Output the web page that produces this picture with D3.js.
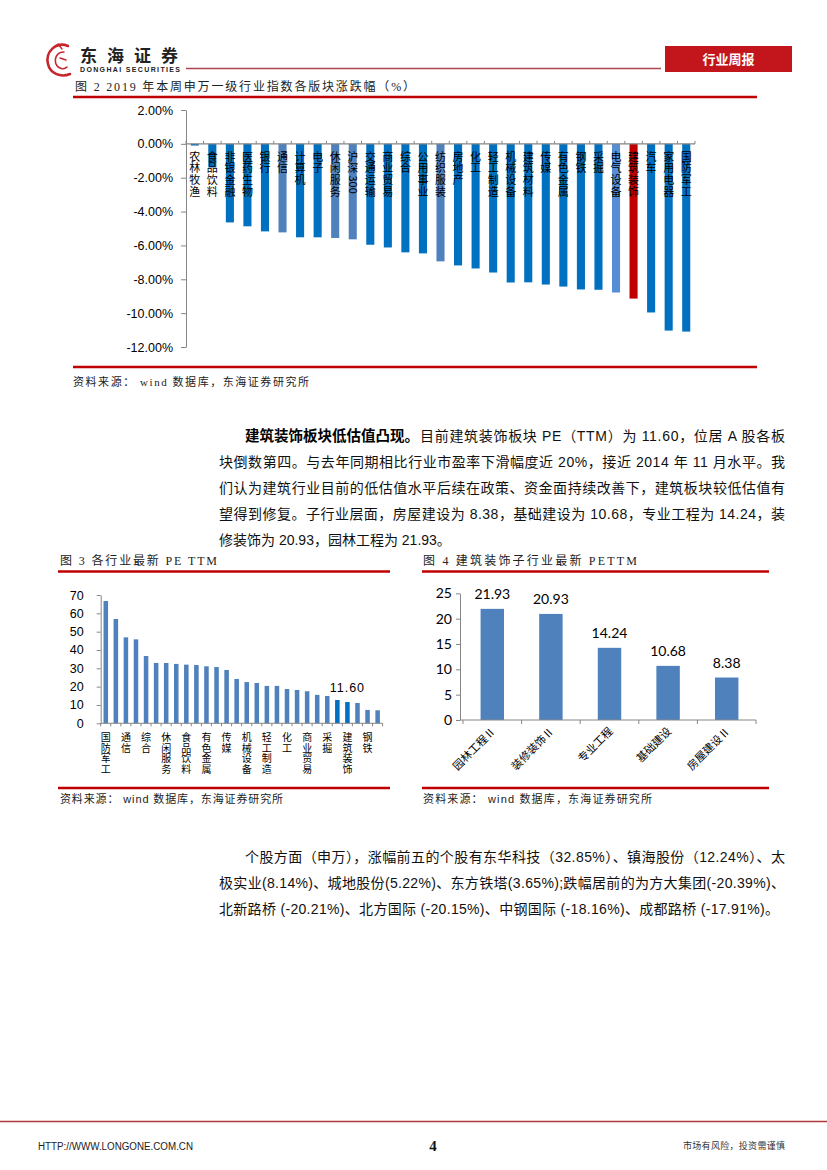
<!DOCTYPE html>
<html>
<head>
<meta charset="utf-8">
<script src="https://cdn.jsdelivr.net/npm/d3@7"></script>
<style>
body{margin:0;background:#fff}
</style>
</head>
<body>
<div id="page"></div>
<script>
// ---- 图2 data
var cats1 = ["农林牧渔","食品饮料","非银金融","医药生物","银行","通信","计算机","电子","休闲服务","沪深300",
  "交通运输","商业贸易","综合","公用事业","纺织服装","房地产","化工","轻工制造","机械设备","建筑材料",
  "传媒","有色金属","钢铁","采掘","电气设备","建筑装饰","汽车","家用电器","国防军工"];
var vals1 = [-0.1,-1.4,-4.64,-4.87,-5.17,-5.23,-5.52,-5.52,-5.56,-5.64,
  -5.96,-6.12,-6.41,-6.47,-6.94,-7.18,-7.36,-7.6,-8.19,-8.18,
  -8.31,-8.43,-8.6,-8.62,-8.78,-9.14,-9.96,-11.03,-11.09];
var lightCats1 = ["通信","休闲服务","沪深300","纺织服装"];
var paleCats1 = ["电气设备"];
var redCats1 = ["建筑装饰"];
var ticks1 = [2,0,-2,-4,-6,-8,-10,-12];

// ---- 图3 data
var cats3 = ["国防军工","计算机","通信","电子","综合","医药生物","休闲服务","农林牧渔","食品饮料","家用电器",
  "有色金属","电气设备","传媒","纺织服装","机械设备","公用事业","轻工制造","交通运输","化工","汽车",
  "商业贸易","房地产","采掘","建筑材料","建筑装饰","非银金融","钢铁","银行"];
var vals3 = [66.7,56.9,46.9,45.8,36.7,32.9,32.9,32.4,32.0,31.8,
  31.1,30.7,29.1,24.2,22.5,22.0,20.4,20.4,18.7,18.2,
  17.5,15.5,14.9,12.7,11.6,11.1,7.3,7.1];
var darkCats3 = ["建筑材料","建筑装饰"];
var labelCat3 = "建筑装饰";
var ticks3 = [0,10,20,30,40,50,60,70];

// ---- 图4 data
var cats4 = ["园林工程Ⅱ","装修装饰Ⅱ","专业工程","基础建设","房屋建设Ⅱ"];
var vals4 = [21.93,20.93,14.24,10.68,8.38];
var ticks4 = [0,5,10,15,20,25];

// ---- text
var para1 = [
  {x:245, bold:"建筑装饰板块低估值凸现。", text:"目前建筑装饰板块 PE（TTM）为 11.60，位居 A 股各板", justify:true},
  {x:219, text:"块倒数第四。与去年同期相比行业市盈率下滑幅度近 20%，接近 2014 年 11 月水平。我", justify:true},
  {x:219, text:"们认为建筑行业目前的低估值水平后续在政策、资金面持续改善下，建筑板块较低估值有", justify:true},
  {x:219, text:"望得到修复。子行业层面，房屋建设为 8.38，基础建设为 10.68，专业工程为 14.24，装", justify:true},
  {x:219, text:"修装饰为 20.93，园林工程为 21.93。"}
];
var para2 = [
  {x:245, text:"个股方面（申万），涨幅前五的个股有东华科技（32.85%）、镇海股份（12.24%）、太", justify:true},
  {x:219, text:"极实业(8.14%)、城地股份(5.22%)、东方铁塔(3.65%);跌幅居前的为方大集团(-20.39%)、", justify:true},
  {x:219, text:"北新路桥 (-20.21%)、北方国际 (-20.15%)、中钢国际 (-18.16%)、成都路桥 (-17.91%)。", end:779}
];

var SANS = "'Liberation Sans','Noto Sans CJK SC',sans-serif";
var CJK = "'Noto Sans CJK SC',sans-serif";
var SERIF = "'Liberation Serif','Noto Sans CJK SC',serif";
var RED = "#C00000";
var AXIS = "#868686";

var svg = d3.select("#page").append("svg")
  .attr("width", 827).attr("height", 1170);

// stacked vertical label: CJK upright, latin glyphs turned sideways
function vtext(g, str, cx, top, fs, step) {
  var t = g.append("text")
    .style("font-family",CJK).style("font-size",fs + "px").attr("fill","#000");
  var y = top;
  Array.from(str).forEach(function(ch) {
    if (/[\x00-\x7F]/.test(ch)) {
      var s = t.append("tspan").attr("x", cx - fs * 0.36).attr("y", y + 1)
        .attr("rotate", 90).text(ch);
      y += s.node().getComputedTextLength();
    } else {
      t.append("tspan").attr("x", cx - fs / 2).attr("y", y + fs * 0.88).text(ch);
      y += step;
    }
  });
}

// ---------- header
var logo = svg.append("g").attr("fill","none").attr("stroke","#C8262C").attr("stroke-linecap","round");
logo.append("path").attr("d","M68,46 C56,41 45,52 48,64 C50,73 60,78 70,74").attr("stroke-width",2.6);
logo.append("path").attr("d","M64,52 C57,52 54,58 56,64 C58,69 64,70 67,67").attr("stroke-width",1.6);
logo.append("path").attr("d","M60,58 L66,60 M58,44 L62,49").attr("stroke-width",1.4);

svg.append("text").attr("x",80).attr("y",62)
  .style("font-family",CJK).style("font-weight","bold").style("font-size","17px")
  .attr("fill","#222").attr("textLength",98).attr("lengthAdjust","spacing").text("东海证券");
svg.append("text").attr("x",80).attr("y",72)
  .style("font-family",SANS).style("font-weight","bold").style("font-size","7px")
  .attr("fill","#222").attr("textLength",100).text("DONGHAI SECURITIES");
svg.append("line").attr("x1",186).attr("x2",661).attr("y1",68.5).attr("y2",68.5)
  .attr("stroke","#B0454F").attr("stroke-width",1.3);
svg.append("rect").attr("x",665).attr("y",46).attr("width",127).attr("height",26).attr("fill","#C3161C");
svg.append("text").attr("x",728.5).attr("y",64).attr("text-anchor","middle")
  .style("font-family",CJK).style("font-weight","bold").style("font-size","13px")
  .attr("fill","#fff").text("行业周报");

function title(x, y, str, len) {
  svg.append("text").attr("x",x).attr("y",y)
    .style("font-family",SERIF).style("font-size","12px").attr("fill","#222")
    .attr("textLength",len).attr("lengthAdjust","spacing").text(str);
}
function rule(x1, x2, y) {
  svg.append("line").attr("x1",x1).attr("x2",x2).attr("y1",y).attr("y2",y)
    .attr("stroke",RED).attr("stroke-width",2.4);
}
function source(x, y, len, font) {
  svg.append("text").attr("x",x).attr("y",y)
    .style("font-family",font).style("font-size","11px").attr("fill","#222")
    .attr("textLength",len).attr("lengthAdjust","spacing")
    .text("资料来源： wind 数据库，东海证券研究所");
}

// ---------- 图2
title(75, 91, "图 2   2019 年本周申万一级行业指数各版块涨跌幅（%）", 340);
rule(73, 757, 97);
rule(73, 757, 367);
source(73, 386, 236, SERIF);

var x1 = d3.scaleBand().domain(cats1).range([186, 695]).paddingInner(0.54).paddingOuter(0.27);
var y1 = d3.scaleLinear().domain([-12, 2]).range([347, 110]);

function color1(c) {
  if (redCats1.indexOf(c) >= 0) return "#C00000";
  if (paleCats1.indexOf(c) >= 0) return "#558ED5";
  if (lightCats1.indexOf(c) >= 0) return "#4F81BD";
  return "#0070C0";
}

var g1 = svg.append("g");
g1.selectAll("rect.bar").data(cats1).enter().append("rect")
  .attr("class","bar")
  .attr("x", function(d){ return x1(d); })
  .attr("width", x1.bandwidth())
  .attr("y", y1(0))
  .attr("height", function(d,i){ return y1(vals1[i]) - y1(0); })
  .attr("fill", color1);

var ya1 = g1.append("g").attr("transform","translate(186,0)")
  .call(d3.axisLeft(y1).tickValues(ticks1).tickSize(5).tickSizeOuter(0)
    .tickFormat(function(d){ return d.toFixed(2) + "%"; }));
ya1.select(".domain").attr("stroke",AXIS);
ya1.selectAll(".tick line").attr("stroke",AXIS);
ya1.selectAll(".tick text").attr("x",-13).attr("fill","#000")
  .style("font-family",SANS).style("font-size","12.5px");

// zero line with ticks between categories
g1.append("line").attr("x1",186).attr("x2",695).attr("y1",y1(0)).attr("y2",y1(0))
  .attr("stroke",AXIS).attr("stroke-width",1.2);
g1.selectAll("line.sep").data(d3.range(cats1.length + 1)).enter().append("line")
  .attr("class","sep")
  .attr("x1", function(i){ return 186 + i * x1.step(); })
  .attr("x2", function(i){ return 186 + i * x1.step(); })
  .attr("y1", y1(0)).attr("y2", y1(0) - 3)
  .attr("stroke",AXIS);

var lab1 = g1.append("g");
cats1.forEach(function(c) {
  vtext(lab1, c, x1(c) + x1.bandwidth()/2, y1(0) + 7, 11, 11.8);
});

// ---------- paragraph 1
function paragraph(lines, y0) {
  lines.forEach(function(l, i) {
    var y = y0 + i * 26;
    var x = l.x;
    if (l.bold) {
      var b = svg.append("text").attr("x",x).attr("y",y)
        .style("font-family",CJK).style("font-weight","bold").style("font-size","14.5px")
        .attr("fill","#000").text(l.bold);
      x += b.node().getComputedTextLength() + 1;
    }
    var t = svg.append("text").attr("x",x).attr("y",y)
      .style("font-family",SANS).style("font-size","14px").attr("fill","#111").text(l.text);
    if (l.justify) t.attr("textLength", 785 - x).attr("lengthAdjust","spacing");
    if (l.end) t.attr("textLength", l.end - x).attr("lengthAdjust","spacing");
  });
}
paragraph(para1, 441);

// ---------- 图3
title(60, 565, "图 3   各行业最新 PE TTM", 157);
rule(58, 390, 571.5);
rule(58, 390, 788);
source(60, 803, 223, SANS);

var x3 = d3.scaleBand().domain(cats3).range([100.7, 382.7]).paddingInner(0.55).paddingOuter(0.28);
var y3 = d3.scaleLinear().domain([0, 70]).range([723.3, 595]);
var g3 = svg.append("g");
g3.selectAll("rect").data(cats3).enter().append("rect")
  .attr("x", function(d){ return x3(d); })
  .attr("width", x3.bandwidth())
  .attr("y", function(d,i){ return y3(vals3[i]); })
  .attr("height", function(d,i){ return y3(0) - y3(vals3[i]); })
  .attr("fill", function(d){ return darkCats3.indexOf(d) >= 0 ? "#0070C0" : "#4F81BD"; });

var ya3 = g3.append("g").attr("transform","translate(100.7,0)")
  .call(d3.axisLeft(y3).tickValues(ticks3).tickSize(4).tickSizeOuter(0));
ya3.select(".domain").attr("stroke",AXIS);
ya3.selectAll(".tick line").attr("stroke",AXIS);
ya3.selectAll(".tick text").attr("x",-17).attr("fill","#000")
  .style("font-family",SANS).style("font-size","12.5px");

g3.append("line").attr("x1",100.7).attr("x2",382.7).attr("y1",y3(0)).attr("y2",y3(0))
  .attr("stroke",AXIS);
g3.selectAll("line.sep").data(d3.range(cats3.length + 1)).enter().append("line")
  .attr("class","sep")
  .attr("x1", function(i){ return 100.7 + i * x3.step(); })
  .attr("x2", function(i){ return 100.7 + i * x3.step(); })
  .attr("y1", y3(0)).attr("y2", y3(0) + 3)
  .attr("stroke",AXIS);

// only every other category is labelled
var lab3 = g3.append("g");
cats3.forEach(function(c, i) {
  if (i % 2 === 0) vtext(lab3, c, x3(c) + x3.bandwidth()/2, y3(0) + 9, 10, 10.5);
});

g3.append("text")
  .attr("x", x3(labelCat3) + x3.bandwidth()/2)
  .attr("y", y3(vals3[cats3.indexOf(labelCat3)]) - 10)
  .attr("text-anchor","middle")
  .style("font-family",SANS).style("font-size","12.5px").style("letter-spacing","1px")
  .attr("fill","#000")
  .text(d3.format(".2f")(vals3[cats3.indexOf(labelCat3)]));

// ---------- 图4
title(423, 565, "图 4   建筑装饰子行业最新 PETTM", 214);
rule(422, 769, 571.5);
rule(422, 769, 788);
source(423, 803, 229, SANS);

var x4 = d3.scaleBand().domain(cats4).range([463, 756]).paddingInner(0.6).paddingOuter(0.3);
var y4 = d3.scaleLinear().domain([0, 25]).range([720, 593.3]);
var g4 = svg.append("g");
g4.selectAll("rect").data(cats4).enter().append("rect")
  .attr("x", function(d){ return x4(d); })
  .attr("width", x4.bandwidth())
  .attr("y", function(d,i){ return y4(vals4[i]); })
  .attr("height", function(d,i){ return y4(0) - y4(vals4[i]); })
  .attr("fill","#4F81BD");

g4.selectAll("text.val").data(cats4).enter().append("text")
  .attr("class","val")
  .attr("x", function(d){ return x4(d) + x4.bandwidth()/2; })
  .attr("y", function(d,i){ return y4(vals4[i]) - 10; })
  .attr("text-anchor","middle")
  .style("font-family","Lato, sans-serif").style("font-size","14px")
  .attr("fill","#000")
  .text(function(d,i){ return d3.format(".2f")(vals4[i]); });

var ya4 = g4.append("g").attr("transform","translate(460,0)")
  .call(d3.axisLeft(y4).tickValues(ticks4).tickSize(4).tickSizeOuter(0));
ya4.select(".domain").attr("stroke",AXIS);
ya4.selectAll(".tick line").attr("stroke",AXIS);
ya4.selectAll(".tick text").attr("x",-8).attr("fill","#000")
  .style("font-family","Lato, sans-serif").style("font-size","14px");

g4.append("line").attr("x1",460).attr("x2",756).attr("y1",y4(0)).attr("y2",y4(0))
  .attr("stroke",AXIS);
g4.selectAll("line.sep").data(d3.range(cats4.length + 1)).enter().append("line")
  .attr("class","sep")
  .attr("x1", function(i){ return 463 + i * x4.step(); })
  .attr("x2", function(i){ return 463 + i * x4.step(); })
  .attr("y1", y4(0)).attr("y2", y4(0) + 4)
  .attr("stroke",AXIS);

g4.selectAll("text.cat").data(cats4).enter().append("text")
  .attr("class","cat")
  .attr("transform", function(d){
    return "translate(" + (x4(d) + x4.bandwidth()/2 + 4) + "," + (y4(0) + 12) + ") rotate(-45)";
  })
  .attr("text-anchor","end")
  .style("font-family",CJK).style("font-size","11px")
  .attr("fill","#000")
  .text(function(d){ return d; });

// ---------- paragraph 2
paragraph(para2, 862);

// ---------- footer
svg.append("line").attr("x1",0).attr("x2",827).attr("y1",1121.5).attr("y2",1121.5)
  .attr("stroke","#B03A3A").attr("stroke-width",1.4);
svg.append("text").attr("x",38).attr("y",1150)
  .style("font-family",SANS).style("font-size","10px").attr("fill","#222")
  .attr("textLength",155).attr("lengthAdjust","spacingAndGlyphs")
  .text("HTTP://WWW.LONGONE.COM.CN");
svg.append("text").attr("x",433).attr("y",1151).attr("text-anchor","middle")
  .style("font-family",SERIF).style("font-weight","bold").style("font-size","15px")
  .attr("fill","#111").text("4");
svg.append("text").attr("x",683).attr("y",1149)
  .style("font-family",CJK).style("font-size","9px").attr("fill","#333")
  .attr("textLength",102).attr("lengthAdjust","spacing")
  .text("市场有风险，投资需谨慎");
</script>
</body>
</html>
